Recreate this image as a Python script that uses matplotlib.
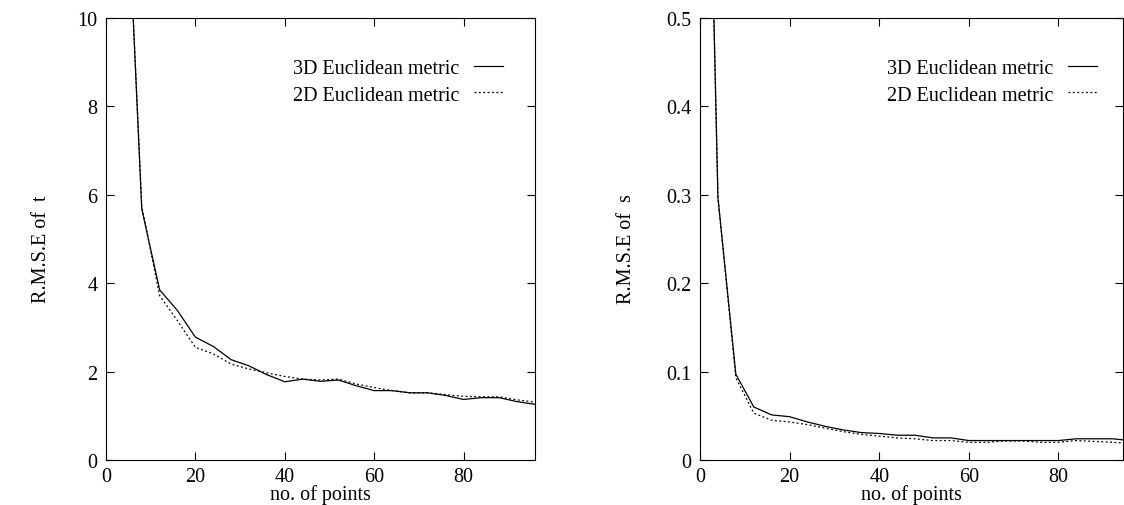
import matplotlib
matplotlib.use("Agg")
import matplotlib.pyplot as plt

plt.rcParams['font.family'] = ['Liberation Serif', 'DejaVu Serif']

# number of points
n_points = [0, 4, 8, 12, 16, 20, 24, 28, 32, 36, 40, 44, 48,
            52, 56, 60, 64, 68, 72, 76, 80, 84, 88, 92, 96]

# R.M.S.E of t
t_3d = [40.0, 14.7, 5.68, 3.85, 3.38, 2.78, 2.57, 2.27, 2.13, 1.93, 1.77, 1.83, 1.78,
        1.81, 1.68, 1.57, 1.57, 1.52, 1.52, 1.46, 1.37, 1.41, 1.41, 1.32, 1.26]
t_2d = [40.0, 14.7, 5.75, 3.72, 3.15, 2.55, 2.40, 2.17, 2.06, 1.97, 1.89, 1.83, 1.81,
        1.83, 1.72, 1.64, 1.57, 1.52, 1.52, 1.48, 1.44, 1.43, 1.43, 1.36, 1.31]

# R.M.S.E of s
s_3d = [1.2, 0.297, 0.097, 0.060, 0.051, 0.049, 0.043, 0.038, 0.034, 0.031, 0.030, 0.028, 0.028,
        0.025, 0.025, 0.022, 0.022, 0.022, 0.022, 0.022, 0.022, 0.024, 0.024, 0.024, 0.022]
s_2d = [1.2, 0.297, 0.093, 0.053, 0.045, 0.043, 0.040, 0.036, 0.032, 0.029, 0.027, 0.025, 0.024,
        0.022, 0.022, 0.020, 0.020, 0.0215, 0.0215, 0.020, 0.020, 0.022, 0.021, 0.020, 0.019]

labels = ["3D Euclidean metric", "2D Euclidean metric"]
fs = 14.5

fig = plt.figure(figsize=(11.24, 5.06), dpi=100)
ax1 = fig.add_axes([106 / 1124, 45 / 506, 429 / 1124, 442 / 506])
ax2 = fig.add_axes([700 / 1124, 45 / 506, 423 / 1124, 442 / 506])


def style(ax, y3, y2, ylim, yticks, yticklabels, ylabel, xmax, leg_x, ylab_x):
    ax.plot(n_points, y3, color='black', lw=0.9, label=labels[0])
    ax.plot(n_points, y2, color='black', lw=0.9, ls=(0, (1.5, 2.0)), label=labels[1])
    ax.set_xlim(0, xmax)
    ax.set_ylim(*ylim)
    ax.set_xticks([0, 20, 40, 60, 80])
    ax.set_yticks(yticks)
    ax.set_yticklabels(yticklabels)
    ax.tick_params(direction='in', length=6, width=0.8, top=True, right=True,
                   labelsize=fs, pad=6)
    ax.tick_params(axis='x', pad=5)
    for sp in ax.spines.values():
        sp.set_linewidth(0.8)
    ax.set_xlabel("no. of points", fontsize=fs, labelpad=-1.5)
    ax.set_ylabel(ylabel, fontsize=fs)
    ax.yaxis.set_label_coords(ylab_x, 0.48)
    ax.legend(loc='upper right', bbox_to_anchor=(leg_x, 0.908), frameon=False,
              markerfirst=False, fontsize=fs, handlelength=1.45, handletextpad=0.7,
              labelspacing=0.38, borderaxespad=0, borderpad=0)


style(ax1, t_3d, t_2d, (0, 10), [0, 2, 4, 6, 8, 10],
      ["0", "2", "4", "6", "8", "10"], "R.M.S.E of  t", 96, 0.925, -0.128)
style(ax2, s_3d, s_2d, (0, 0.5), [0, 0.1, 0.2, 0.3, 0.4, 0.5],
      ["0", "0.1", "0.2", "0.3", "0.4", "0.5"], "R.M.S.E of  s", 94.4, 0.938, -0.151)

fig.savefig("out.png", dpi=100)
